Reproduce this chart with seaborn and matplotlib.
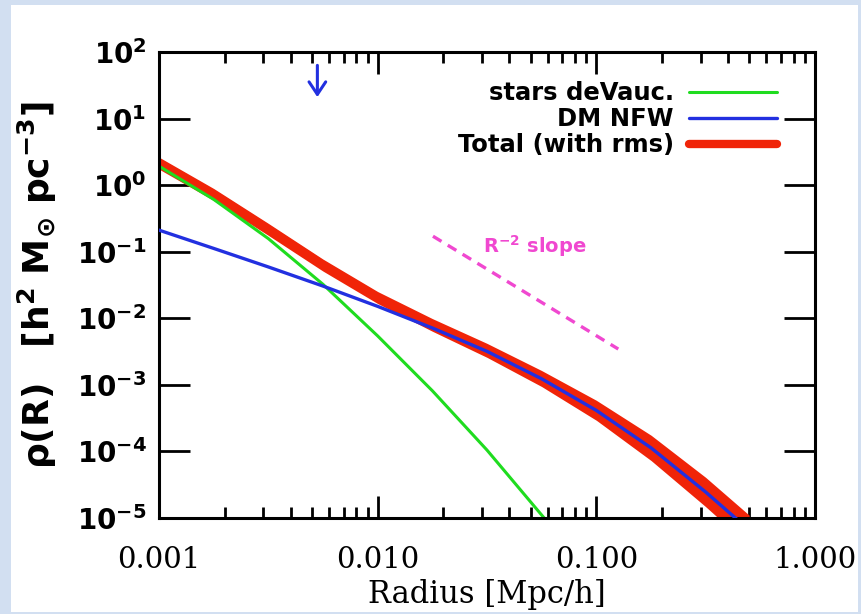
import numpy as np
import matplotlib
matplotlib.use("Agg")
import matplotlib.pyplot as plt
import seaborn as sns
from matplotlib.ticker import LogLocator, NullLocator, NullFormatter
from matplotlib.patches import Rectangle
from matplotlib.lines import Line2D

# ---------------- data ----------------
stars_r = [0.001, 0.00178, 0.00316, 0.00562, 0.01, 0.0178, 0.0316, 0.0562, 0.0631]
stars_rho = [1.93, 0.61, 0.1576, 0.0324, 0.00543, 8.13e-4, 1.05e-4, 1.11e-5, 7.1e-6]

dm_r = [0.001, 0.00178, 0.00316, 0.00562, 0.01, 0.0178, 0.0316, 0.0562, 0.1, 0.178, 0.316, 0.447]
dm_rho = [0.211, 0.112, 0.0591, 0.0305, 0.0151, 0.00714, 0.00319, 0.001234, 4.13e-4, 1.13e-4,
          2.46e-5, 9.1e-6]

total_r = [0.001, 0.00178, 0.00316, 0.00562, 0.01, 0.0178, 0.0316, 0.0562, 0.1, 0.178, 0.316, 0.5]
total_rho = [2.14, 0.723, 0.217, 0.0630, 0.0205, 0.00794, 0.0033, 0.001245, 4.15e-4, 1.13e-4,
             2.46e-5, 6.5e-6]
total_rms_dex = [0.09, 0.09, 0.09, 0.09, 0.09, 0.095, 0.105, 0.12, 0.15, 0.19, 0.22, 0.23]

slope_r = [0.0179, 0.126]
slope_rho = [0.171, 0.00345]
slope_text = r"R$^{\mathbf{-2}}$ slope"
slope_text_pos = (0.0303, 0.095)

arrow_r = 0.0053
arrow_rho = [63.0, 21.0]

x_ticks = [0.001, 0.01, 0.1, 1.0]
x_tick_labels = ["0.001", "0.010", "0.100", "1.000"]
y_exponents = [-5, -4, -3, -2, -1, 0, 1, 2]

legend_labels = ["stars deVauc.", "DM NFW", "Total (with rms)"]

GREEN = "#1fdc1f"
BLUE = "#2230e0"
RED = "#f02408"
MAGENTA = "#f048d0"

# ---------------- style ----------------
sns.set_theme(style="white")
plt.rcParams["font.family"] = ["DejaVu Sans"]
plt.rcParams["mathtext.fontset"] = "dejavusans"
plt.rcParams["text.color"] = "black"
plt.rcParams["axes.labelcolor"] = "black"
plt.rcParams["xtick.color"] = "black"
plt.rcParams["ytick.color"] = "black"

fig = plt.figure(figsize=(8.62, 6.14), dpi=100)
fig.patch.set_facecolor("#d2dff1")
fig.patches.append(Rectangle((0.0128, 0.0033), 0.9826, 0.9886, transform=fig.transFigure,
                             facecolor="white", edgecolor="none", zorder=-1))
ax = fig.add_axes([0.18445, 0.15635, 0.76103, 0.75896])
ax.set_facecolor("white")

# ---------------- marks ----------------
tr = np.array(total_r)
trho = np.array(total_rho)
rms = 10 ** np.array(total_rms_dex)
ax.fill_between(tr, trho / rms, trho * rms, color=RED, lw=0, zorder=1)
sns.lineplot(x=total_r, y=total_rho, ax=ax, color=RED, lw=6, sort=False, estimator=None, zorder=1.5)
sns.lineplot(x=stars_r, y=stars_rho, ax=ax, color=GREEN, lw=2.2, sort=False, estimator=None, zorder=2)
sns.lineplot(x=dm_r, y=dm_rho, ax=ax, color=BLUE, lw=2.4, sort=False, estimator=None, zorder=3)

ax.plot(slope_r, slope_rho, color=MAGENTA, lw=2.4, dashes=(3.0, 2.2), zorder=3)
ax.text(slope_text_pos[0], slope_text_pos[1], slope_text, color=MAGENTA, fontsize=14,
        fontweight="bold", ha="left", va="baseline")

ax.annotate("", xy=(arrow_r, arrow_rho[1]), xytext=(arrow_r, arrow_rho[0]),
            arrowprops=dict(arrowstyle="->,head_length=0.45,head_width=0.3", color=BLUE,
                            lw=2.2, mutation_scale=20, shrinkA=0, shrinkB=0))

# ---------------- axes ----------------
ax.set_xscale("log")
ax.set_yscale("log")
ax.set_xlim(0.001, 1.0)
ax.set_ylim(1e-5, 1e2)

ax.set_xticks(x_ticks, labels=x_tick_labels, fontfamily="DejaVu Serif", fontsize=21)
ax.xaxis.set_minor_locator(LogLocator(base=10, subs=np.arange(2, 10)))
ax.xaxis.set_minor_formatter(NullFormatter())
ax.set_yticks([10.0 ** e for e in y_exponents],
              labels=[rf"$\mathbf{{10^{{{e}}}}}$" for e in y_exponents], fontsize=20)
ax.yaxis.set_minor_locator(NullLocator())

ax.tick_params(axis="x", which="major", direction="in", length=16, width=2, top=True,
               bottom=True, pad=20, colors="black")
ax.tick_params(axis="x", which="minor", direction="in", length=8, width=2, top=True, bottom=True)
ax.tick_params(axis="y", which="major", direction="in", length=22, width=2, left=True,
               right=True, pad=9, colors="black")
for s in ax.spines.values():
    s.set_color("black")
    s.set_linewidth(2.2)

ax.set_xlabel("Radius [Mpc/h]", fontfamily="DejaVu Serif", fontsize=22, va="top")
ax.xaxis.set_label_coords(0.5, -0.13)
ax.set_ylabel(r"$\mathbf{\rho(R)\ \ \ [h^2\ M_{\odot}\ pc^{-3}]}$", fontsize=26)
ax.yaxis.set_label_coords(-0.152, 0.5)

# ---------------- legend ----------------
handles = [Line2D([], [], color=GREEN, lw=2.2),
           Line2D([], [], color=BLUE, lw=2.4),
           Line2D([], [], color=RED, lw=6)]
ax.legend(handles, legend_labels, loc="upper right", bbox_to_anchor=(0.942, 0.937),
          bbox_transform=ax.transAxes, frameon=False, markerfirst=False, handlelength=3.6,
          handletextpad=0.65, labelspacing=0.08, borderaxespad=0, borderpad=0,
          prop={"weight": "bold", "size": 17.5}, labelcolor="black")

fig.savefig("out.png", dpi=100, facecolor=fig.get_facecolor())
